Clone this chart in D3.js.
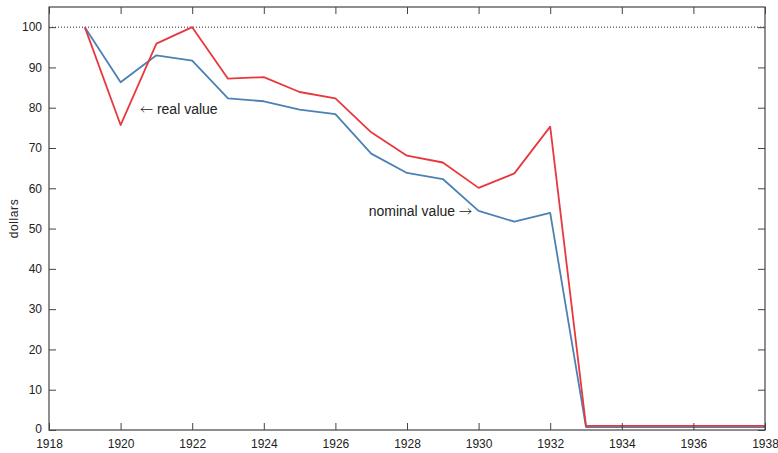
<!DOCTYPE html>
<html><head><meta charset="utf-8">
<script src="https://cdn.jsdelivr.net/npm/d3@7"></script>
<style>body{margin:0;background:#fff;}svg{display:block;font-family:"Liberation Sans",Arial,sans-serif;}</style>
</head><body><svg id="c" width="778" height="453"></svg>
<script>
const years = [1919,1920,1921,1922,1923,1924,1925,1926,1927,1928,1929,1930,1931,1932,1933,1934,1935,1936,1937,1938];
const nominal = [100,86.3,93.0,91.7,82.3,81.6,79.5,78.4,68.6,63.8,62.3,54.4,51.7,53.9,0.7,0.7,0.7,0.7,0.7,0.7];
const real = [100,75.7,95.9,100,87.2,87.6,83.9,82.3,73.9,68.1,66.4,60.1,63.7,75.3,1.0,1.0,1.0,1.0,1.0,1.0];
const xTicks = [1918,1920,1922,1924,1926,1928,1930,1932,1934,1936,1938];
const yTicks = [0,10,20,30,40,50,60,70,80,90,100];

const svg = d3.select("#c");
const L=49, R=765, T=7, B=430;
const x = d3.scaleLinear().domain([1918,1938]).range([L,R]);
const y = d3.scaleLinear().domain([0,105]).range([B,T]);
const axisCol="#444";

svg.append("line").attr("x1",L).attr("x2",R).attr("y1",y(100)).attr("y2",y(100))
  .attr("stroke","#222").attr("stroke-width",1).attr("stroke-dasharray","1,2");

const line = d3.line().x((d,i)=>x(years[i])).y(d=>y(d));
svg.append("path").datum(nominal).attr("d",line).attr("fill","none").attr("stroke","#4b82b4").attr("stroke-width",1.8).attr("stroke-linejoin","round");
svg.append("path").datum(real).attr("d",line).attr("fill","none").attr("stroke","#e8383e").attr("stroke-width",1.8).attr("stroke-linejoin","round");

const tl=7;
const gB = svg.append("g").attr("transform",`translate(0,${B})`).call(d3.axisBottom(x).tickValues(xTicks).tickFormat(d3.format("d")).tickSizeInner(-tl).tickSizeOuter(0).tickPadding(9));
const gT = svg.append("g").attr("transform",`translate(0,${T})`).call(d3.axisTop(x).tickValues(xTicks).tickFormat("").tickSizeInner(-tl).tickSizeOuter(0));
const gL = svg.append("g").attr("transform",`translate(${L},0)`).call(d3.axisLeft(y).tickValues(yTicks).tickSizeInner(-tl).tickSizeOuter(0).tickPadding(7));
const gR = svg.append("g").attr("transform",`translate(${R},0)`).call(d3.axisRight(y).tickValues(yTicks).tickFormat("").tickSizeInner(-tl).tickSizeOuter(0));
[gB,gT,gL,gR].forEach(g=>{
  g.select(".domain").remove();
  g.selectAll("line").attr("stroke",axisCol).attr("stroke-width",1);
  g.selectAll("text").attr("fill","#222").style("font-size","12px").style("font-family","'Liberation Sans',Arial,sans-serif");
});
gB.selectAll("text").attr("dy","0.71em");
gL.selectAll("text").filter(d=>d===0).attr("dy","0.2em");
svg.append("rect").attr("x",L).attr("y",T).attr("width",R-L).attr("height",B-T).attr("fill","none").attr("stroke",axisCol).attr("stroke-width",1.2);

svg.append("text").attr("transform",`translate(18,${(T+B)/2})`+" rotate(-90)").attr("text-anchor","middle")
  .attr("fill","#222").style("font-size","12px").style("letter-spacing","0.6px").text("dollars");

const arrowFont = "'Noto Sans CJK JP','DejaVu Sans',sans-serif";
const t1 = svg.append("text").attr("x",140).attr("y",114).attr("fill","#222").style("font-size","14px");
t1.append("tspan").style("font-family",arrowFont).style("font-weight","300").style("font-size","13px").text("\u2190");
t1.append("tspan").text(" real value");
const t2 = svg.append("text").attr("x",472).attr("y",216).attr("text-anchor","end").attr("fill","#222").style("font-size","14px");
t2.append("tspan").text("nominal value ");
t2.append("tspan").style("font-family",arrowFont).style("font-weight","300").style("font-size","13px").text("\u2192");
</script></body></html>
